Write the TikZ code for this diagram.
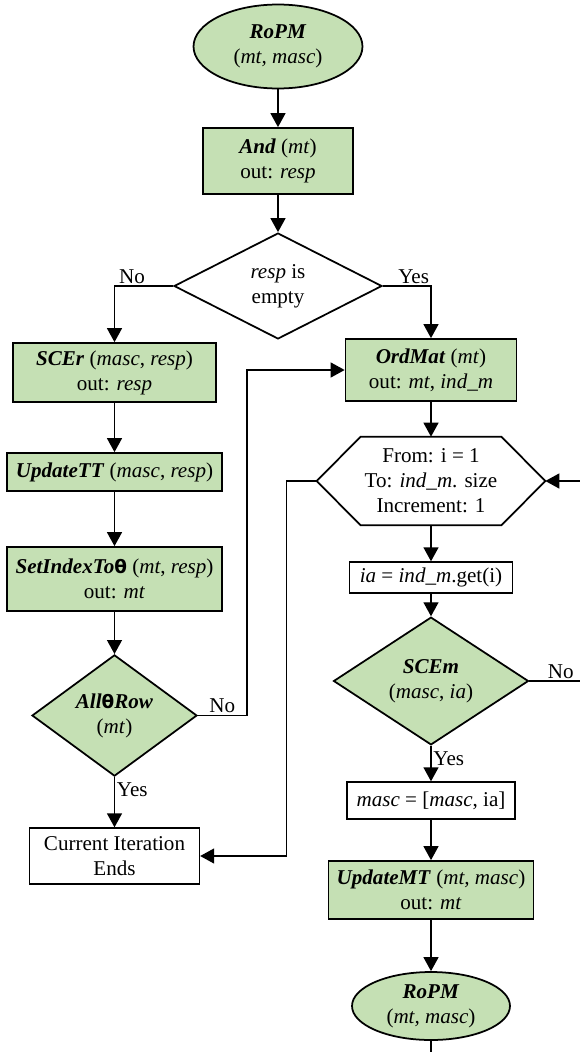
\documentclass[tikz,border=0pt]{standalone}
\usepackage{fontspec}
\setmainfont{Liberation Serif}
\newfontfamily\thetafont{DejaVu Sans}
\usetikzlibrary{shapes.geometric,arrows.meta}

\definecolor{boxgreen}{HTML}{C5E0B4}
\newcommand*{\thz}{{\thetafont\fontsize{10.5}{12}\selectfont\bfseries\upshape θ}}

\tikzset{
	greenbox/.style={draw,line width=1pt,fill=boxgreen,align=center,inner sep=0pt},
	whitebox/.style={draw,line width=0.8pt,fill=white,align=center,inner sep=0pt},
	greenoval/.style={ellipse,draw,line width=1pt,fill=boxgreen,align=center,inner sep=0pt},
	decision/.style={diamond,draw,line width=1pt,align=center,inner sep=0pt},
	flow/.style={line width=0.8pt,-{Triangle[length=2.8mm,width=3mm]}},
	plain/.style={line width=0.8pt},
	lbl/.style={inner sep=1pt}
}

\begin{document}
\begin{tikzpicture}[x=0.02cm,y=-0.02cm,font=\fontsize{12}{14.2}\selectfont]
	\useasboundingbox (0,0) rectangle (580,1052);
	
	% start oval
	\node[greenoval,minimum width=3.38cm,minimum height=1.68cm] (start) at(278,46.5) {\textbf{\textit{RoPM}}\\(\textit{mt, masc})};
	
	% rectangle and
	\node[greenbox,minimum width=3.0cm,minimum height=1.32cm] (and) at(278,161) {\textbf{\textit{And}} (\textit{mt})\\out: \textit{resp}};
	
	% decision resp is empty
	\node[decision,minimum width=4.16cm,minimum height=2.12cm] (empty) at(278,286) {\textit{resp} is\\empty};
	
	% left column
	\node[greenbox,minimum width=4.06cm,minimum height=1.18cm] (scer) at(114.5,372.5) {\textbf{\textit{SCEr}} (\textit{masc}, \textit{resp})\\out: \textit{resp}};
	\node[greenbox,minimum width=4.3cm,minimum height=0.76cm] (updtt) at(114.5,472) {\textbf{\textit{UpdateTT}} (\textit{masc}, \textit{resp})};
	\node[greenbox,minimum width=4.3cm,minimum height=1.28cm] (setidx) at(114.5,579) {\textbf{\textit{SetIndexTo}}\thz{} (\textit{mt}, \textit{resp})\\out: \textit{mt}};
	\node[decision,fill=boxgreen,minimum width=3.3cm,minimum height=2.14cm] (allrow) at(114.5,715.5) {\textbf{\textit{All}}\thz\textbf{\textit{Row}}\\(\textit{mt})};
	\node[whitebox,minimum width=3.4cm,minimum height=1.12cm] (current) at(114.5,856) {Current Iteration\\Ends};
	
	% right column
	\node[greenbox,minimum width=3.42cm,minimum height=1.24cm] (ordmat) at(431,370) {\textbf{\textit{OrdMat}} (\textit{mt})\\out: \textit{mt}, \textit{ind\_m}};
	\node[align=center,inner sep=0pt,minimum width=4.56cm,minimum height=1.76cm] (hex) at(431,481) {From: i = 1\\To: \textit{ind\_m}. size\\Increment: 1};
	\draw[line width=1pt] (hex.west) -- ([xshift=0.88cm]hex.north west) -- ([xshift=-0.88cm]hex.north east) -- (hex.east) -- ([xshift=-0.88cm]hex.south east) -- ([xshift=0.88cm]hex.south west) -- cycle;
	\node[whitebox,minimum width=3.26cm,minimum height=0.62cm] (ia) at(431,577.5) {\textit{ia} = \textit{ind\_m}.get(i)};
	\node[decision,fill=boxgreen,minimum width=3.9cm,minimum height=2.16cm] (scem) at(431,681) {\textbf{\textit{SCEm}}\\(\textit{masc}, \textit{ia})};
	\node[whitebox,minimum width=3.36cm,minimum height=0.74cm] (masc) at(431,800.5) {\textit{masc} = [\textit{masc}, ia]};
	\node[greenbox,minimum width=4.1cm,minimum height=1.16cm] (updmt) at(431,890) {\textbf{\textit{UpdateMT}} (\textit{mt, masc})\\out: \textit{mt}};
	\node[greenoval,minimum width=3.16cm,minimum height=1.36cm] (again) at(431,1006) {\textbf{\textit{RoPM}}\\(\textit{mt, masc})};
	
	% loose ends at the border
	\coordinate (loopin) at(580,481);
	\coordinate (loopout) at(580,681);
	\coordinate (tail) at(431,1052);
	
	% arrows
	\draw[flow] (start) -- (and);
	\draw[flow] (and) -- (empty);
	\draw[flow] (empty.west) -| node[lbl,above,pos=0.35] {No} (scer.north);
	\draw[flow] (empty.east) -| node[lbl,above,pos=0.32] {Yes} (ordmat.north);
	\draw[flow] (scer) -- (updtt);
	\draw[flow] (updtt) -- (setidx);
	\draw[flow] (setidx) -- (allrow);
	\draw[flow] (allrow.east) -- node[lbl,above] {No} ++(49,0) |- (ordmat.west);
	\draw[flow] (allrow.south) -- node[lbl,right,pos=0.25] {Yes} (current.north);
	\draw[flow] (ordmat) -- (hex);
	\draw[flow] (hex.west) -- ++(-30,0) |- (current.east);
	\draw[flow] (loopin) -- (hex.east);
	\draw[flow] (hex) -- (ia);
	\draw[flow] (ia) -- (scem);
	\draw[plain] (scem.east) -- node[lbl,above,pos=0.62] {No} (loopout);
	\draw[flow] (scem.south) -- node[lbl,right,pos=0.36] {Yes} (masc.north);
	\draw[flow] (masc) -- (updmt);
	\draw[flow] (updmt) -- (again);
	\draw[plain] (again.south) -- (tail);
	
\end{tikzpicture}
\end{document}
